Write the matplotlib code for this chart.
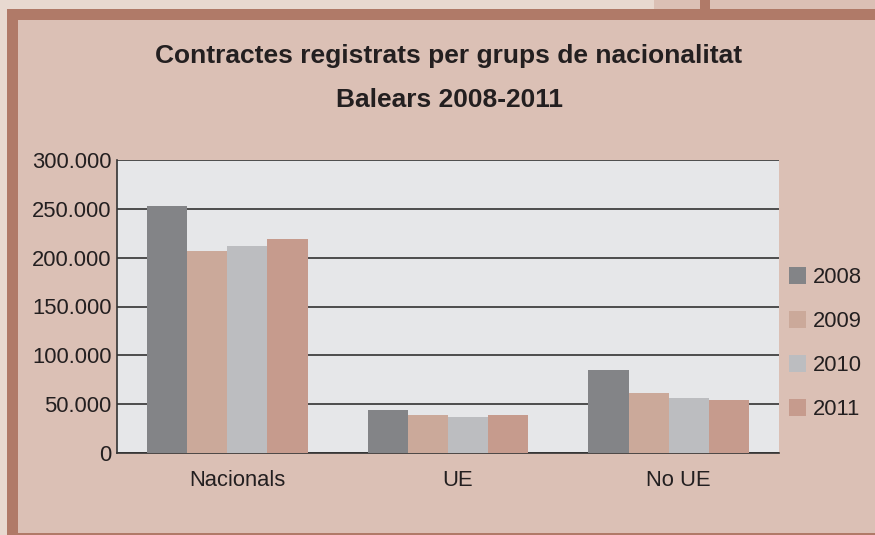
import matplotlib
matplotlib.use("Agg")
import matplotlib.pyplot as plt
import numpy as np
from matplotlib.patches import Rectangle
import matplotlib.transforms as mtransforms

plt.rcParams['font.family'] = ['Liberation Sans', 'DejaVu Sans']

categories = ["Nacionals", "UE", "No UE"]
years = ["2008", "2009", "2010", "2011"]
values_2008 = [253000, 44000, 85000]
values_2009 = [207000, 39000, 61500]
values_2010 = [212000, 37000, 56500]
values_2011 = [219000, 39000, 54500]
series = [values_2008, values_2009, values_2010, values_2011]
colors = ["#838487", "#cba99a", "#bcbdc0", "#c69b8d"]
yticks = [0, 50000, 100000, 150000, 200000, 250000, 300000]
ytick_labels = ["0", "50.000", "100.000", "150.000", "200.000", "250.000", "300.000"]
title_line1 = "Contractes registrats per grups de nacionalitat"
title_line2 = "Balears 2008-2011"

W, H = 875, 535
fig = plt.figure(figsize=(W / 100, H / 100), dpi=100)
fig.patch.set_facecolor("#dbc0b5")

def rect(x0, y0, x1, y1, color):
    fig.add_artist(Rectangle((x0 / W, 1 - y1 / H), (x1 - x0) / W, (y1 - y0) / H,
                             transform=fig.transFigure, facecolor=color,
                             edgecolor="none", zorder=0))

light = "#e8d9d0"
border = "#b07a68"
rect(0, 0, 654, 9, light)
rect(0, 0, 7, H, light)
rect(700, 0, 710, 9, border)
rect(7, 9, W, 19.5, border)
rect(7, 9, 18, H, border)
rect(7, 533, W, H, border)

ax = fig.add_axes([117 / W, (H - 453) / H, 662 / W, 293 / H])
ax.set_facecolor("#e6e7e9")
x = np.arange(len(categories))
w = 0.182
for i, (vals, col, yr) in enumerate(zip(series, colors, years)):
    ax.bar(x + (i - 1.5) * w, vals, width=w, color=col, label=yr, zorder=3)

ax.set_xlim(-0.5, 2.5)
ax.set_ylim(0, 300000)
ax.set_yticks(yticks)
ax.set_yticklabels(ytick_labels)
ax.set_xticks(x)
ax.set_xticklabels(categories)
ax.yaxis.grid(True, color="#404040", linewidth=1.3, zorder=1)
ax.set_axisbelow(True)
for s in ["top", "right"]:
    ax.spines[s].set_visible(False)
for s in ["left", "bottom"]:
    ax.spines[s].set_color("#333333")
    ax.spines[s].set_linewidth(1.2)
ax.tick_params(axis="both", length=0, labelsize=15.8, colors="#231f20")
ax.tick_params(axis="y", pad=4)
ax.tick_params(axis="x", pad=12.5)
offset = mtransforms.ScaledTranslation(10 / 100, 0, fig.dpi_scale_trans)
for lab in ax.get_xticklabels():
    lab.set_transform(lab.get_transform() + offset)

fig.text(449 / W, 1 - 56 / H, title_line1,
         ha="center", va="center", fontsize=19, fontweight="bold", color="#231f20")
fig.text(449 / W, 1 - 100 / H, title_line2,
         ha="center", va="center", fontsize=19, fontweight="bold", color="#231f20")

handles, labels = ax.get_legend_handles_labels()
fig.legend(handles, labels, loc="upper left", bbox_to_anchor=(789 / W, 1 - 267 / H),
           frameon=False, fontsize=15.8, handlelength=0.78, handleheight=0.78,
           handletextpad=0.32, labelspacing=1.05, borderpad=0, borderaxespad=0,
           labelcolor="#231f20")

fig.savefig("out.png", dpi=100, facecolor=fig.get_facecolor())
